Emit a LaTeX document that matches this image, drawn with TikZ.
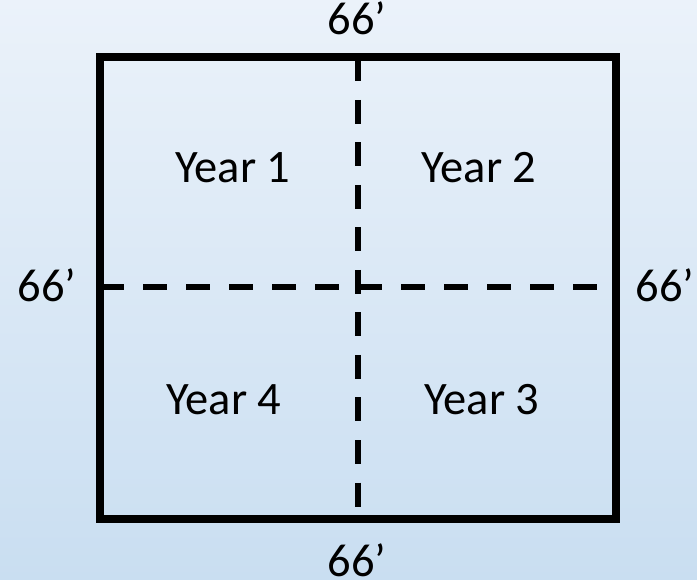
\documentclass[tikz,border=0pt]{standalone}
\usepackage{fontspec}
\setmainfont{Carlito}
\definecolor{bgtop}{RGB}{235,242,250}
\definecolor{bgbot}{RGB}{201,222,241}
\tikzset{
  frame/.style={line width=8pt, draw=black},
  vdash/.style={line width=6pt, draw=black, dash pattern=on 24pt off 18.5pt},
  hdash/.style={line width=6pt, draw=black, dash pattern=on 24pt off 19pt},
  lbl/.style={anchor=base, inner sep=0pt, font=\fontsize{46.5}{55}\selectfont}
}
\begin{document}
\begin{tikzpicture}[x=1pt,y=-1pt]
\shade[top color=bgtop, bottom color=bgbot] (0,0) rectangle (697,580);
\useasboundingbox (0,0) rectangle (697,580);
\coordinate (vt) at (358,57.5);
\coordinate (vb) at (358,519);
\coordinate (hl) at (100,287);
\coordinate (hr) at (615.5,287);
\draw[vdash] (vt) -- (vb);
\draw[hdash] (hl) -- (hr);
\draw[frame] (100,57.5) rectangle (615.5,519);
\node[lbl] (y1) at (233,183) {Year 1};
\node[lbl] (y2) at (479,183) {Year 2};
\node[lbl] (y4) at (224,414) {Year 4};
\node[lbl] (y3) at (482,414) {Year 3};
\node[lbl] (top) at (357,35) {66’};
\node[lbl] (bot) at (357,576) {66’};
\node[lbl] (left) at (47,302) {66’};
\node[lbl] (right) at (665,302) {66’};
\end{tikzpicture}
\end{document}
